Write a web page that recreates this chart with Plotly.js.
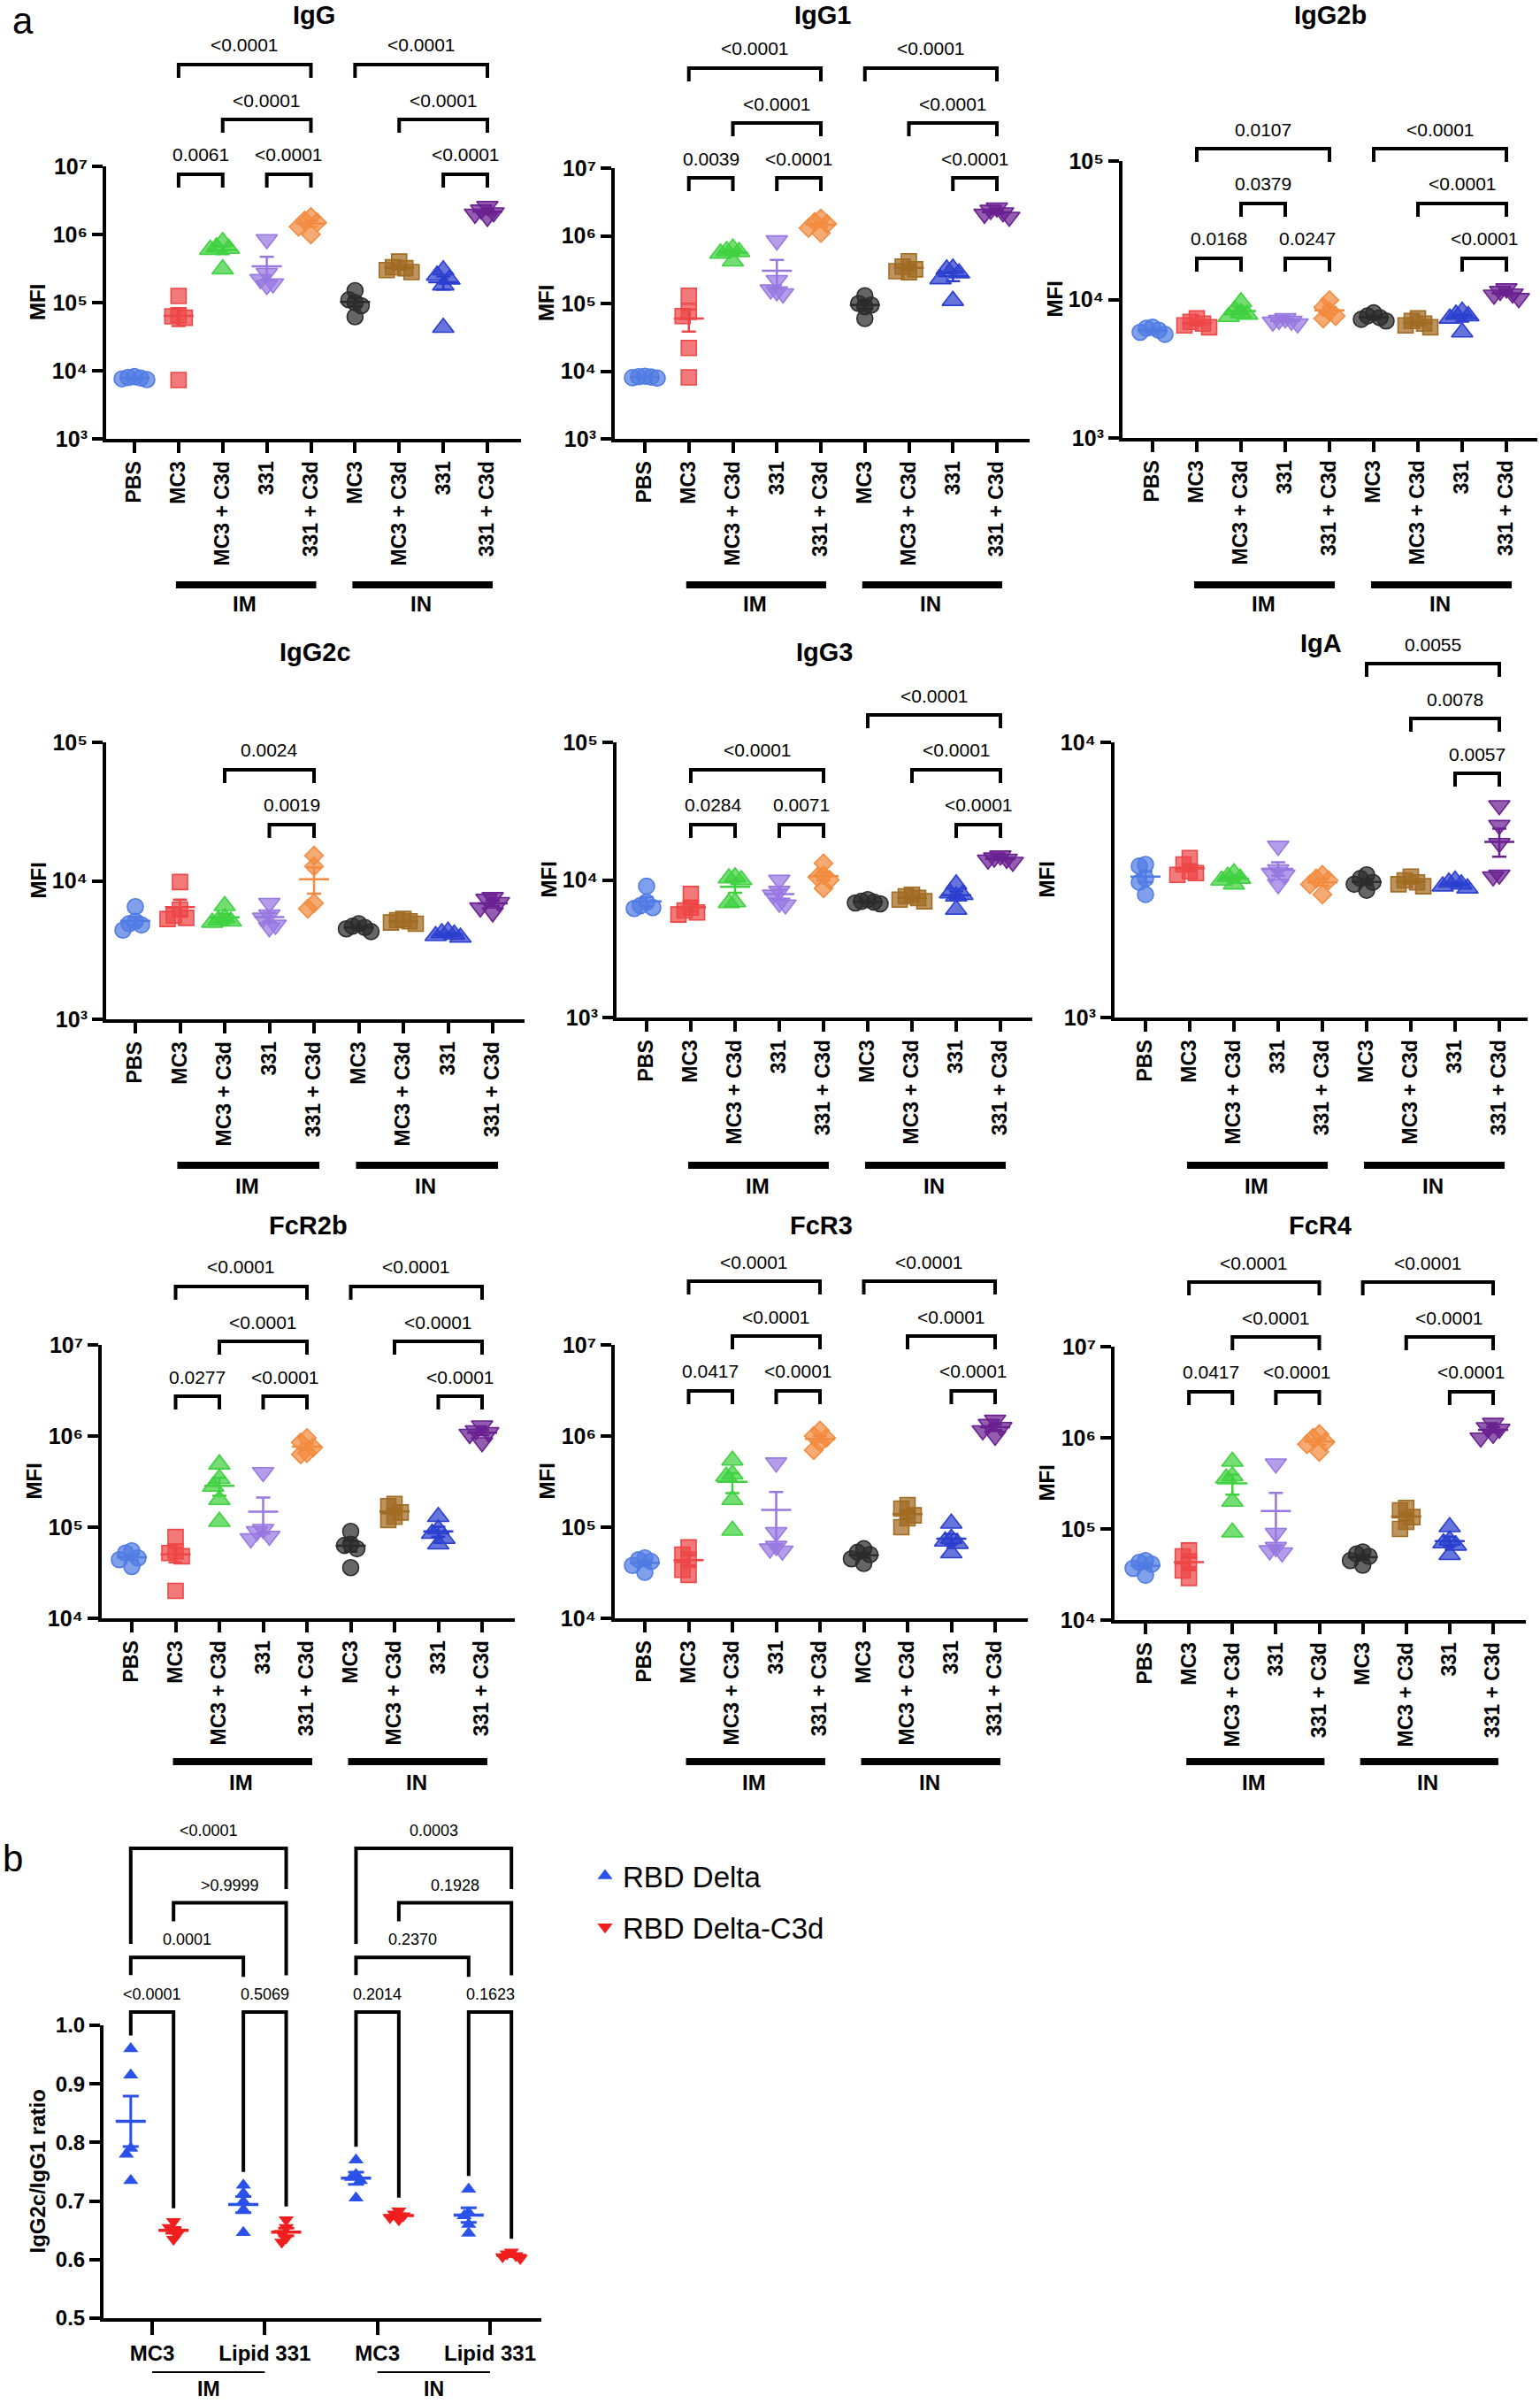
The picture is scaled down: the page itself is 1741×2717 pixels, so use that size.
<!DOCTYPE html>
<html><head><meta charset="utf-8">
<script src="https://cdn.plot.ly/plotly-3.0.1.min.js"></script>
<style>html,body{margin:0;padding:0;background:#fff}</style>
</head><body><div id="chart" style="width:1741px;height:2717px"></div>
<script>
// ---------------- DATA ----------------
const groupLabels = ["PBS","MC3","MC3 + C3d","331","331 + C3d","MC3","MC3 + C3d","331","331 + C3d"];
const routeLabels = ["IM","IN"];
const routeGroups = [[1,4],[5,8]];

const IgG = [
 [8200,7800,7600,8000,7400],
 [125000,65000,60000,63000,7300],
 [780000,620000,600000,650000,310000],
 [850000,270000,220000,180000,190000],
 [1800000,1600000,1500000,1300000,1000000],
 [150000,110000,100000,90000,62000],
 [400000,330000,320000,300000,280000],
 [300000,250000,220000,180000,43000],
 [2600000,2300000,2100000,2000000,1800000]
];
const IgG1 = [
 [8400,8200,8000,8300,7900],
 [130000,75000,65000,22000,8100],
 [650000,600000,580000,550000,420000],
 [850000,220000,160000,150000,140000],
 [1800000,1600000,1500000,1300000,1100000],
 [130000,100000,95000,90000,60000],
 [420000,350000,320000,300000,290000],
 [330000,320000,280000,230000,110000],
 [2600000,2400000,2200000,2100000,1900000]
];
const IgG2b = [
 [6300,6200,6000,5800,5600],
 [7300,6900,6700,6500,6300],
 [9600,8400,8000,7800,7500],
 [7300,7100,7000,6900,6700],
 [9900,8800,8200,7600,7300],
 [8000,7600,7400,7200,7000],
 [7300,7000,6700,6500,6300],
 [8200,7800,7600,7300,5800],
 [12000,11500,11000,10800,10200]
];
const IgG2c = [
 [6500,5100,4900,4800,4400],
 [9800,6200,5600,5400,5300],
 [6600,5400,5200,5100,5000],
 [6900,5700,5400,4800,4600],
 [15200,12700,6900,6300],
 [4900,4700,4600,4500,4300],
 [5300,5200,5100,5000,4900],
 [4300,4200,4100,4000,3900],
 [7600,7400,7000,6400,5900]
];
const IgG3 = [
 [9000,6900,6500,6300,6200],
 [7900,6300,6000,5800,5600],
 [10500,10300,10000,6900,6800],
 [10000,8300,7800,6800,6600],
 [13200,10800,10500,10000,8700],
 [7200,7000,6900,6800,6700],
 [7800,7600,7400,7200,7000],
 [9300,8000,7800,7600,6100],
 [15000,14500,14200,14000,13500]
];
const IgA = [
 [3600,3550,3200,3100,2800],
 [3800,3600,3400,3350,3300],
 [3350,3250,3200,3150,3050],
 [4200,3450,3350,3300,3050],
 [3300,3200,3150,3050,2800],
 [3300,3200,3100,3050,2900],
 [3250,3150,3100,3050,3000],
 [3150,3100,3050,3000,2950],
 [5900,5000,4300,3300,3250]
];
const FcR2b = [
 [55000,52000,46000,44000,37000],
 [78000,54000,52000,48000,20000],
 [490000,340000,280000,200000,115000],
 [400000,95000,90000,80000,75000],
 [950000,850000,750000,650000,630000],
 [90000,65000,63000,58000,36000],
 [180000,170000,145000,130000,120000],
 [130000,95000,85000,75000,65000],
 [1300000,1150000,1100000,1050000,850000]
];
const FcR3 = [
 [46000,44000,42000,38000,32000],
 [60000,50000,44000,34000,30000],
 [540000,380000,360000,200000,92000],
 [510000,88000,62000,58000,55000],
 [1150000,1000000,950000,850000,700000],
 [58000,53000,50000,45000,40000],
 [175000,160000,135000,125000,100000],
 [110000,75000,70000,66000,52000],
 [1500000,1350000,1250000,1150000,1000000]
];
const FcR4 = [
 [45000,43000,41000,37000,31000],
 [58000,50000,44000,35000,29000],
 [550000,380000,360000,200000,92000],
 [520000,90000,63000,58000,55000],
 [1100000,1000000,900000,850000,700000],
 [56000,53000,50000,45000,40000],
 [170000,160000,135000,120000,100000],
 [105000,75000,70000,66000,52000],
 [1450000,1300000,1250000,1100000,1000000]
];

const IgG_p   = [[1,2,"0.0061"],[3,4,"<0.0001"],[2,4,"<0.0001"],[1,4,"<0.0001"],[7,8,"<0.0001"],[6,8,"<0.0001"],[5,8,"<0.0001"]];
const IgG1_p  = [[1,2,"0.0039"],[3,4,"<0.0001"],[2,4,"<0.0001"],[1,4,"<0.0001"],[7,8,"<0.0001"],[6,8,"<0.0001"],[5,8,"<0.0001"]];
const IgG2b_p = [[1,2,"0.0168"],[3,4,"0.0247"],[2,3,"0.0379"],[1,4,"0.0107"],[7,8,"<0.0001"],[6,8,"<0.0001"],[5,8,"<0.0001"]];
const IgG2c_p = [[3,4,"0.0019"],[2,4,"0.0024"]];
const IgG3_p  = [[1,2,"0.0284"],[3,4,"0.0071"],[1,4,"<0.0001"],[7,8,"<0.0001"],[6,8,"<0.0001"],[5,8,"<0.0001"]];
const IgA_p   = [[7,8,"0.0057"],[6,8,"0.0078"],[5,8,"0.0055"]];
const FcR2b_p = [[1,2,"0.0277"],[3,4,"<0.0001"],[2,4,"<0.0001"],[1,4,"<0.0001"],[7,8,"<0.0001"],[6,8,"<0.0001"],[5,8,"<0.0001"]];
const FcR3_p  = [[1,2,"0.0417"],[3,4,"<0.0001"],[2,4,"<0.0001"],[1,4,"<0.0001"],[7,8,"<0.0001"],[6,8,"<0.0001"],[5,8,"<0.0001"]];
const FcR4_p  = [[1,2,"0.0417"],[3,4,"<0.0001"],[2,4,"<0.0001"],[1,4,"<0.0001"],[7,8,"<0.0001"],[6,8,"<0.0001"],[5,8,"<0.0001"]];

// panel b
const ratioCategories = ["MC3","Lipid 331","MC3","Lipid 331"];
const ratioRoutes = ["IM","IN"];
const ratioRouteCats = [[0,1],[2,3]];
const ratioSeriesNames = ["RBD Delta","RBD Delta-C3d"];
const ratioDelta = [
 [0.96,0.915,0.79,0.78,0.735],
 [0.727,0.713,0.699,0.685,0.646],
 [0.77,0.745,0.74,0.735,0.705],
 [0.72,0.68,0.675,0.66,0.645]
];
const ratioDeltaC3d = [
 [0.665,0.655,0.65,0.645,0.635],
 [0.668,0.655,0.645,0.637,0.63],
 [0.683,0.678,0.675,0.672,0.668],
 [0.613,0.61,0.607,0.605,0.602]
];
// [categoryA, seriesA, categoryB, seriesB, p]
const ratio_p = [
 [0,0,0,1,"<0.0001"],[1,0,1,1,"0.5069"],[2,0,2,1,"0.2014"],[3,0,3,1,"0.1623"],
 [0,0,1,0,"0.0001"],[2,0,3,0,"0.2370"],
 [0,1,1,1,">0.9999"],[2,1,3,1,"0.1928"],
 [0,0,1,1,"<0.0001"],[2,0,3,1,"0.0003"]
];

// ---------------- STYLE / LAYOUT ----------------
const W = 1741, H = 2717;
const FONT = "Liberation Sans, Arial, Helvetica, sans-serif";
const groupColors = ["#4f7be3","#ee4646","#3fd13f","#9878e0","#f28b3f","#2b2b2b","#a16b22","#2b3fcf","#6a2090"];
const groupSymbols = ["circle","square","triangle-up","triangle-down","diamond","circle","square","triangle-up","triangle-down"];
const groupSizes = [18,17,21,21,16,18,17,21,21];
const seriesColors = ["#2a52e8","#f01e1e"];
const seriesSymbols = ["triangle-up","triangle-down"];
const SUP = {"3":"\u00b3","4":"\u2074","5":"\u2075","6":"\u2076","7":"\u2077"};

const panels = [
 {title:"IgG",   data:IgG,   comps:IgG_p,   lo:3,hi:7, ax:120,right:589, top:188,bot:496,  first:152,last:551,  L0:197, titleY:17,   barY:661, lblY:683},
 {title:"IgG1",  data:IgG1,  comps:IgG1_p,  lo:3,hi:7, ax:695,right:1164,top:190,bot:496,  first:729,last:1127, L0:201, titleY:17,   barY:661, lblY:683},
 {title:"IgG2b", data:IgG2b, comps:IgG2b_p, lo:3,hi:5, ax:1269,right:1738,top:182,bot:495, first:1303,last:1703,L0:292, titleY:17,   barY:661, lblY:683},
 {title:"IgG2c", data:IgG2c, comps:IgG2c_p, lo:3,hi:5, ax:120,right:593, top:839,bot:1152, first:153,last:557,  L0:932, titleY:737,  barY:1317,lblY:1340},
 {title:"IgG3",  data:IgG3,  comps:IgG3_p,  lo:3,hi:5, ax:697,right:1167,top:839,bot:1150, first:731,last:1131, L0:932, titleY:737,  barY:1317,lblY:1340},
 {title:"IgA",   data:IgA,   comps:IgA_p,   lo:3,hi:4, ax:1260,right:1727,top:839,bot:1150,first:1295,last:1695,L0:874, titleY:727,  barY:1317,lblY:1340},
 {title:"FcR2b", data:FcR2b, comps:FcR2b_p, lo:4,hi:7, ax:115,right:582, top:1520,bot:1829,first:149,last:545,  L0:1578,titleY:1385, barY:1991,lblY:2014},
 {title:"FcR3",  data:FcR3,  comps:FcR3_p,  lo:4,hi:7, ax:695,right:1162,top:1520,bot:1829,first:729,last:1125, L0:1572,titleY:1385, barY:1991,lblY:2014},
 {title:"FcR4",  data:FcR4,  comps:FcR4_p,  lo:4,hi:7, ax:1260,right:1725,top:1522,bot:1831,first:1295,last:1688,L0:1573,titleY:1385, barY:1991,lblY:2014}
];
const panelB = {ax:117,right:612,top:2289,bot:2620,first:172,last:554, L0:2274, step:61.7,
  legs:{1:[20,22],2:[21,82],3:[108,46]}, seriesOff:0.19, barY:2681, lblY:2700};

const py = p => 1 - p/H;
const hexA = (hex,a) => { const n=parseInt(hex.slice(1),16); return `rgba(${n>>16},${(n>>8)&255},${n&255},${a})`; };
const mean = a => a.reduce((s,v)=>s+v,0)/a.length;
const sem = a => { const m=mean(a); return Math.sqrt(a.reduce((s,v)=>s+(v-m)*(v-m),0)/(a.length-1))/Math.sqrt(a.length); };

function swarm(vals, toPx, step, thr){
  const order = vals.map((v,i)=>i).sort((a,b)=>vals[b]-vals[a]);
  const placed=[], off=new Array(vals.length).fill(0);
  const cands=[0,-1,1,-2,2,-3,3];
  order.forEach(i=>{
    const y=toPx(vals[i]);
    for(const c of cands){
      const x=c*step;
      if(placed.every(p=>Math.abs(p.y-y)>=thr || Math.abs(p.x-x)>=step*0.9)){off[i]=x;placed.push({x,y});break;}
    }
  });
  return off;
}
function assignLevels(ints){
  const order=ints.map((c,i)=>i).sort((i,j)=>Math.round((ints[i].b-ints[i].a)*1000)-Math.round((ints[j].b-ints[j].a)*1000) || ints[i].a-ints[j].a);
  const occ=[], lev=[];
  order.forEach(i=>{
    let L=0;
    while((occ[L]||[]).some(o=>ints[i].a<=o.b+1e-9 && o.a<=ints[i].b+1e-9)) L++;
    (occ[L]=occ[L]||[]).push(ints[i]); lev[i]=L;
  });
  return lev;
}

const traces=[], shapes=[], annotations=[];
const layout={width:W,height:H,margin:{l:0,r:0,t:0,b:0},paper_bgcolor:"#fff",plot_bgcolor:"rgba(0,0,0,0)",
  font:{family:FONT,color:"#000"},showlegend:true};

const axisCommon={showline:true,linewidth:4,linecolor:"#000",ticks:"outside",tickwidth:4,tickcolor:"#000",
  showgrid:false,zeroline:false,fixedrange:true};

panels.forEach((P,k)=>{
  const n=k+1, sfx=n===1?"":String(n);
  const xa="x"+sfx, ya="y"+sfx;
  const sp=(P.last-P.first)/8;
  layout["xaxis"+sfx]=Object.assign({},axisCommon,{domain:[P.ax/W,P.right/W],anchor:ya,
    range:[(P.ax-P.first)/sp,(P.right-P.first)/sp],tickvals:groupLabels.map((_,i)=>i),ticktext:groupLabels,
    tickangle:-90,ticklen:12,tickfont:{family:FONT,size:23,weight:"bold"}});
  const dec=[]; for(let e=P.lo;e<=P.hi;e++) dec.push(e);
  layout["yaxis"+sfx]=Object.assign({},axisCommon,{domain:[py(P.bot),py(P.top)],anchor:xa,type:"log",
    range:[P.lo,P.hi],tickvals:dec.map(e=>Math.pow(10,e)),ticktext:dec.map(e=>"10"+SUP[String(e)]),
    ticklen:12,tickfont:{family:FONT,size:25,weight:"bold"}});

  const toPx=v=>(Math.log10(v)-P.lo)/(P.hi-P.lo)*(P.bot-P.top);
  P.data.forEach((vals,g)=>{
    const col=groupColors[g];
    const offs=swarm(vals,toPx,7,12);
    traces.push({type:"scatter",mode:"markers",xaxis:xa,yaxis:ya,x:vals.map((v,i)=>g+offs[i]/sp),y:vals,
      marker:{symbol:groupSymbols[g],size:groupSizes[g],color:hexA(col,0.72),line:{color:col,width:1.6}},
      showlegend:false,hoverinfo:"skip",cliponaxis:false});
    const m=mean(vals), s=sem(vals), hw=17/sp;
    traces.push({type:"scatter",mode:"lines",xaxis:xa,yaxis:ya,x:[g-hw,g+hw],y:[m,m],
      line:{color:col,width:2.5},showlegend:false,hoverinfo:"skip"});
    traces.push({type:"scatter",mode:"markers",xaxis:xa,yaxis:ya,x:[g],y:[m],marker:{size:2,opacity:0},
      error_y:{type:"data",array:[s],visible:true,color:col,thickness:2.5,width:8},showlegend:false,hoverinfo:"skip"});
  });

  // comparison brackets
  const ints=P.comps.map(c=>({a:c[0],b:c[1]}));
  const lev=assignLevels(ints);
  P.comps.forEach((c,i)=>{
    const yl=P.L0-lev[i]*62;
    shapes.push({type:"path",xref:xa,yref:"paper",
      path:`M ${c[0]},${py(yl+15)} L ${c[0]},${py(yl)} L ${c[1]},${py(yl)} L ${c[1]},${py(yl+15)}`,
      line:{color:"#000",width:4}});
    annotations.push({xref:xa,yref:"paper",x:(c[0]+c[1])/2,y:py(yl-22),text:c[2],showarrow:false,
      font:{family:FONT,size:21},xanchor:"center",yanchor:"middle"});
  });
  // route bars
  routeGroups.forEach((rg,r)=>{
    shapes.push({type:"line",xref:xa,yref:"paper",x0:rg[0]-0.06,x1:rg[1]+0.12,y0:py(P.barY),y1:py(P.barY),
      line:{color:"#000",width:8}});
    annotations.push({xref:xa,yref:"paper",x:(rg[0]+rg[1])/2,y:py(P.lblY),text:"<b>"+routeLabels[r]+"</b>",
      showarrow:false,font:{family:FONT,size:24},xanchor:"center",yanchor:"middle"});
  });
  annotations.push({xref:xa+" domain",yref:"paper",x:0.5,y:py(P.titleY),text:"<b>"+P.title+"</b>",showarrow:false,
    font:{family:FONT,size:29},xanchor:"center",yanchor:"middle"});
  annotations.push({xref:"paper",yref:"paper",x:(P.ax-77)/W,y:py((P.top+P.bot)/2),text:"<b>MFI</b>",textangle:-90,
    showarrow:false,font:{family:FONT,size:24},xanchor:"center",yanchor:"middle"});
});

// ---------------- panel b ----------------
(function(){
  const B=panelB, xa="x10", ya="y10";
  const sp=(B.last-B.first)/3;
  layout.xaxis10=Object.assign({},axisCommon,{domain:[B.ax/W,B.right/W],anchor:ya,
    range:[(B.ax-B.first)/sp,(B.right-B.first)/sp],tickvals:[0,1,2,3],ticktext:ratioCategories,
    tickangle:0,ticklen:15,tickfont:{family:FONT,size:24,weight:"bold"}});
  layout.yaxis10=Object.assign({},axisCommon,{domain:[py(B.bot),py(B.top)],anchor:xa,range:[0.5,1.0],
    tick0:0.5,dtick:0.1,tickformat:".1f",ticklen:12,tickfont:{family:FONT,size:24,weight:"bold"}});
  const toPx=v=>(v-0.5)/0.5*(B.bot-B.top);
  const pxOf=v=>B.top+(1.0-v)/0.5*(B.bot-B.top);
  const series=[ratioDelta,ratioDeltaC3d];
  series.forEach((S,s)=>{
    const xs=[], ys=[];
    S.forEach((vals,c)=>{
      const offs=swarm(vals,toPx,5,8);
      vals.forEach((v,i)=>{xs.push(c+(s===0?-B.seriesOff:B.seriesOff)+offs[i]/sp); ys.push(v);});
    });
    traces.push({type:"scatter",mode:"markers",name:ratioSeriesNames[s],legendgroup:"s"+s,xaxis:xa,yaxis:ya,x:xs,y:ys,
      marker:{symbol:seriesSymbols[s],size:15,color:seriesColors[s],line:{width:0}},showlegend:true,hoverinfo:"skip",cliponaxis:false});
  });
  series.forEach((S,s)=>{
    S.forEach((vals,c)=>{
      const xc=c+(s===0?-B.seriesOff:B.seriesOff), m=mean(vals), e=sem(vals), hw=17/sp;
      traces.push({type:"scatter",mode:"lines",xaxis:xa,yaxis:ya,x:[xc-hw,xc+hw],y:[m,m],
        line:{color:seriesColors[s],width:3.5},showlegend:false,hoverinfo:"skip"});
      traces.push({type:"scatter",mode:"markers",xaxis:xa,yaxis:ya,x:[xc],y:[m],marker:{size:2,opacity:0},
        error_y:{type:"data",array:[e],visible:true,color:seriesColors[s],thickness:3,width:9},showlegend:false,hoverinfo:"skip"});
    });
  });
  const xpos=(c,s)=>c+(s===0?-B.seriesOff:B.seriesOff);
  const ints=ratio_p.map(c=>({a:xpos(c[0],c[1]),b:xpos(c[2],c[3])}));
  const lev=assignLevels(ints);
  ratio_p.forEach((c,i)=>{
    const L=lev[i], yl=B.L0-L*B.step;
    let la,lb;
    if(L===0){
      la=pxOf(Math.max(...series[c[1]][c[0]]))-15; lb=pxOf(Math.max(...series[c[3]][c[2]]))-15;
    } else { la=yl+B.legs[L][0]; lb=yl+B.legs[L][1]; }
    shapes.push({type:"path",xref:xa,yref:"paper",
      path:`M ${ints[i].a},${py(la)} L ${ints[i].a},${py(yl)} L ${ints[i].b},${py(yl)} L ${ints[i].b},${py(lb)}`,
      line:{color:"#000",width:4}});
    annotations.push({xref:xa,yref:"paper",x:(ints[i].a+ints[i].b)/2,y:py(yl-20),text:c[4],showarrow:false,
      font:{family:FONT,size:18},xanchor:"center",yanchor:"middle"});
  });
  ratioRouteCats.forEach((rc,r)=>{
    shapes.push({type:"line",xref:xa,yref:"paper",x0:rc[0],x1:rc[1],y0:py(B.barY),y1:py(B.barY),line:{color:"#000",width:2}});
    annotations.push({xref:xa,yref:"paper",x:(rc[0]+rc[1])/2,y:py(B.lblY),text:"<b>"+ratioRoutes[r]+"</b>",showarrow:false,
      font:{family:FONT,size:23},xanchor:"center",yanchor:"middle"});
  });
  annotations.push({xref:"paper",yref:"paper",x:(B.ax-75)/W,y:py((B.top+B.bot)/2),text:"<b>IgG2c/IgG1 ratio</b>",
    textangle:-90,showarrow:false,font:{family:FONT,size:24},xanchor:"center",yanchor:"middle"});
})();

annotations.push({xref:"paper",yref:"paper",x:26/W,y:py(24),text:"a",showarrow:false,font:{family:FONT,size:42},xanchor:"center",yanchor:"middle"});
annotations.push({xref:"paper",yref:"paper",x:14/W,y:py(2100),text:"b",showarrow:false,font:{family:FONT,size:42},xanchor:"center",yanchor:"middle"});

layout.legend={x:664/W,y:py(2092),xanchor:"left",yanchor:"top",font:{family:FONT,size:33},bgcolor:"rgba(0,0,0,0)",
  tracegroupgap:12,itemsizing:"trace"};
layout.shapes=shapes;
layout.annotations=annotations;

Plotly.newPlot("chart",traces,layout,{staticPlot:true});
</script>
</body></html>
